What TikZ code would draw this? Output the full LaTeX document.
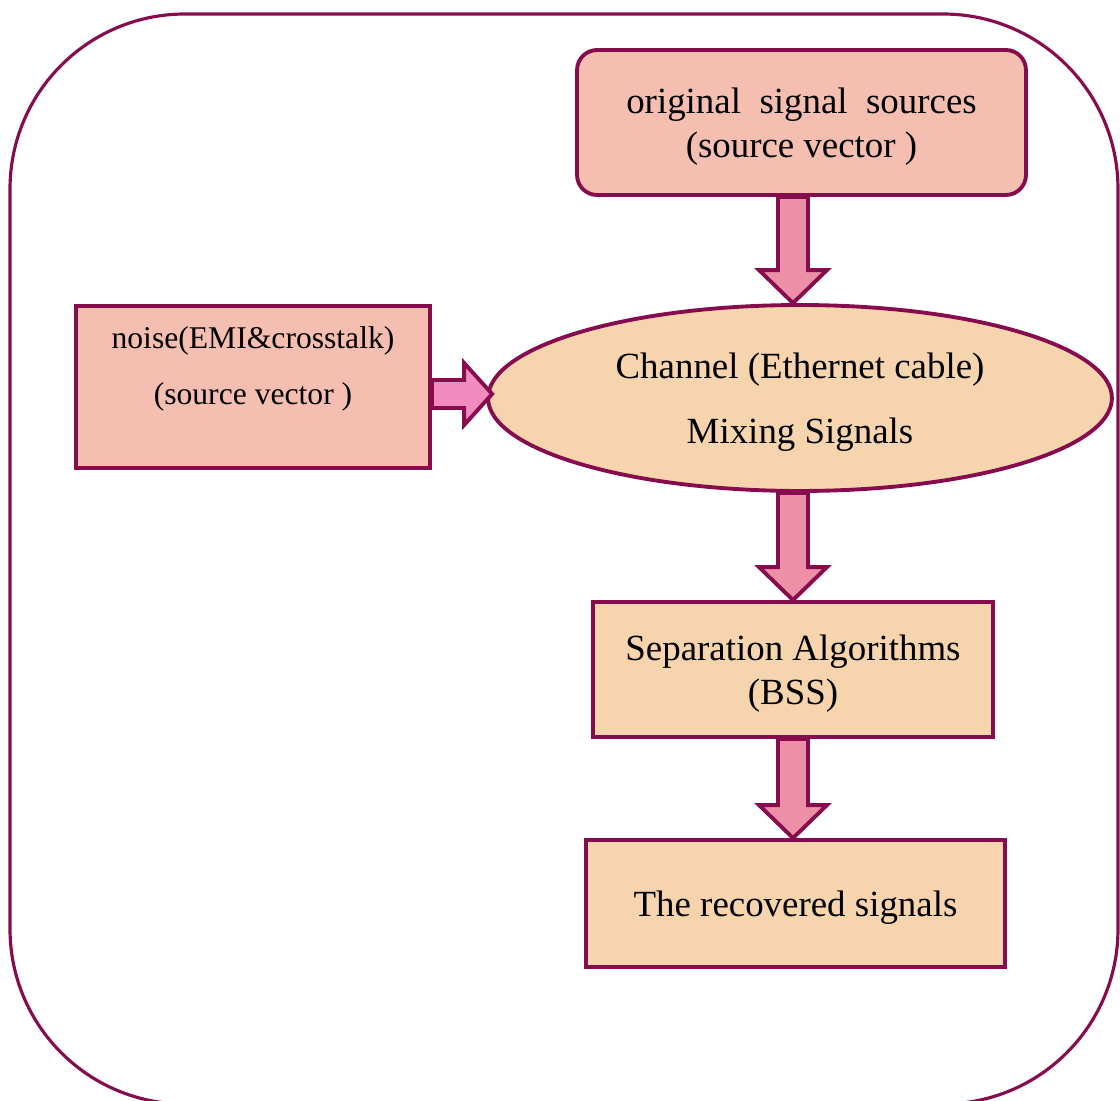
\documentclass[tikz,border=0pt]{standalone}
\usepackage{fontspec}
\setmainfont{Liberation Serif}
\usepackage{xcolor}
\usetikzlibrary{shapes,positioning,calc}

\definecolor{maroon}{HTML}{860C4E}
\definecolor{salmon}{HTML}{F4BEB0}
\definecolor{peach}{HTML}{F6D5AE}
\definecolor{arrowpink}{HTML}{EE8FA8}
\definecolor{sidepink}{HTML}{F28CC0}

% block arrow pointing down, shaft from #1 to head tip #2
\newcommand{\blockdown}[3][arrowpink]{%
  \draw[blockarrow, fill=#1] ($(#2)+(-15,0)$) -- ($(#3)+(-15,-33)$) -- ($(#3)+(-34,-33)$)
    -- (#3) -- ($(#3)+(34,-33)$) -- ($(#3)+(15,-33)$) -- ($(#2)+(15,0)$) -- cycle;}
% block arrow pointing right
\newcommand{\blockright}[3][sidepink]{%
  \draw[blockarrow, fill=#1] ($(#2)+(0,-14)$) -- ($(#3)+(-28,-14)$) -- ($(#3)+(-28,-31)$)
    -- (#3) -- ($(#3)+(-28,31)$) -- ($(#3)+(-28,14)$) -- ($(#2)+(0,14)$) -- cycle;}

\begin{document}
\begin{tikzpicture}[
    x=0.02cm, y=-0.02cm,
    box/.style={rectangle, draw=maroon, line width=2.2pt, align=center, text depth=0pt,
      font=\fontsize{21}{25}\selectfont},
    blockarrow/.style={draw=maroon, line width=2.2pt, line join=miter},
    outer/.style={draw=maroon, line width=1.8pt, rounded corners=3.5cm}
]
    \useasboundingbox (0,0) rectangle (1120,1101);
    \draw[outer] (10,14) rectangle (1118,1104);

    % Blocks
    \node[box, fill=salmon, rounded corners=0.4cm, minimum width=8.98cm, minimum height=2.9cm]
      (orig) at (801.5,122.5) {original\ \ signal\ \ sources\\(source vector )};
    \node[box, fill=salmon, minimum width=7.08cm, minimum height=3.24cm] (noise) at (253,387) {};
    \node[align=center, font=\fontsize{18}{32}\selectfont] (noisetxt) at (253,369)
      {noise(EMI\&crosstalk)\\(source vector )};
    \node[box, ellipse, fill=peach, minimum width=12.48cm, minimum height=3.72cm]
      (chan) at (800,398) {Channel (Ethernet cable)\\[12pt]Mixing Signals};
    \node[box, fill=peach, minimum width=8cm, minimum height=2.7cm]
      (sep) at (793,669.5) {Separation Algorithms\\(BSS)};
    \node[box, fill=peach, minimum width=8.38cm, minimum height=2.54cm]
      (rec) at (795.5,903.5) {The recovered signals};

    % Arrows
    \coordinate (a1s) at (orig.south -| sep.north);
    \coordinate (a1t) at (chan.north -| sep.north);
    \coordinate (a2s) at (chan.south -| sep.north);
    \coordinate (a3s) at (sep.south);
    \coordinate (a3t) at (rec.north -| sep.north);
    \coordinate (a4s) at ($(noise.east)+(0,7)$);
    \coordinate (a4t) at ($(chan.west)+(6,-4)$);
    \blockdown{a1s}{a1t}
    \blockdown{a2s}{sep.north}
    \blockdown{a3s}{a3t}
    \blockright{a4s}{a4t}
\end{tikzpicture}
\end{document}
